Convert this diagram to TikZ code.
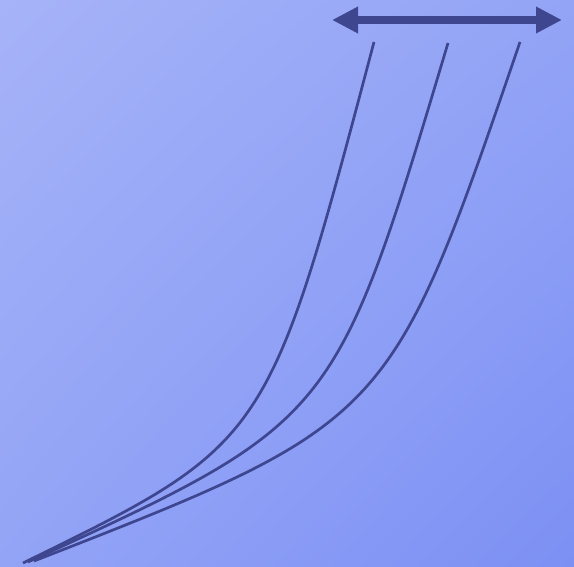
\documentclass[tikz,border=0pt]{standalone}
\usepackage{tikz}
\usepackage{xcolor}
\definecolor{vizBgLight}{HTML}{A6B3F8}
\definecolor{vizBgMid}{HTML}{93A4F6}
\definecolor{vizBgDark}{HTML}{7C90F4}
\definecolor{vizLine}{HTML}{3F4690}
\usetikzlibrary{arrows.meta, shadings}

\begin{document}
\begin{tikzpicture}[x=1pt, y=-1pt]
  \useasboundingbox (0,0) rectangle (574,567);
  \shade[upper left=vizBgLight, upper right=vizBgMid, lower left=vizBgMid, lower right=vizBgDark] (0,0) rectangle (574,567);
  \coordinate (L) at (332,20);
  \coordinate (R) at (562,20);
  \draw[vizLine, line width=8.3pt, {Triangle[length=26pt, width=25pt]}-{Triangle[length=26pt, width=25pt]}] (L) -- (R);
  \coordinate (A0) at (23,563);
  \coordinate (A1) at (374,42);
  \coordinate (B0) at (28,562);
  \coordinate (B1) at (448,43);
  \coordinate (C0) at (34,561);
  \coordinate (C1) at (520,42);
  \draw[vizLine, line width=2.7pt] (A0) .. controls (268,443) .. (A1);
  \draw[vizLine, line width=2.7pt] (B0) .. controls (335,421) .. (B1);
  \draw[vizLine, line width=2.7pt] (C0) .. controls (390,422) .. (C1);
\end{tikzpicture}
\end{document}
